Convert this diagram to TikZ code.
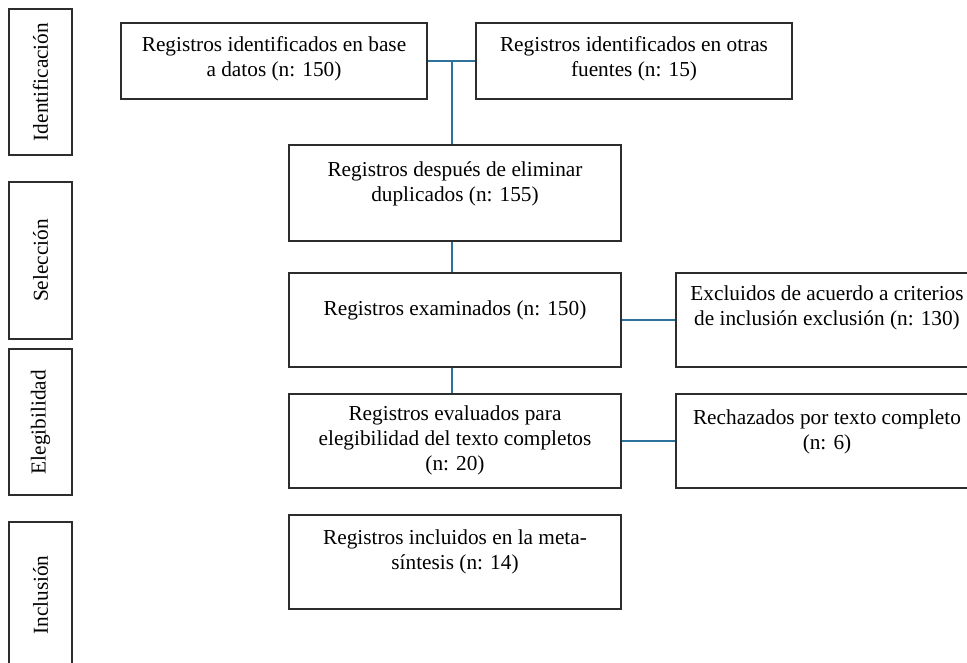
\documentclass[tikz,border=0pt]{standalone}
\usepackage{fontspec}
\setmainfont{Liberation Serif}
\usetikzlibrary{positioning}

\definecolor{enlace}{RGB}{46,114,156}
\definecolor{borde}{RGB}{45,45,45}

\begin{document}
\begin{tikzpicture}[x=1pt,y=-1pt,
  caja/.style={draw=borde,line width=1.4pt,inner sep=0pt},
  texto/.style={inner sep=0pt,align=center,font=\fontsize{21.3}{25}\selectfont},
  etapa/.style={caja,minimum height=63pt,rotate=90,font=\fontsize{21.3}{25}\selectfont},
  linea/.style={draw=enlace,line width=1.6pt}]
\useasboundingbox (0,0) rectangle (967,663);

% etapas
\node[etapa,minimum width=146pt] (ident) at (40.5,82) {Identificación};
\node[etapa,minimum width=157pt] (selec) at (40.5,260.5) {Selección};
\node[etapa,minimum width=146pt] (elegi) at (40.5,422) {Elegibilidad};
\node[etapa,minimum width=146pt] (inclu) at (40.5,595) {Inclusión};

% cajas
\node[caja,minimum width=306pt,minimum height=76pt] (regbase) at (274,61) {};
\node[caja,minimum width=316pt,minimum height=76pt] (regotras) at (634,61) {};
\node[caja,minimum width=332pt,minimum height=96pt] (dup) at (455,193) {};
\node[caja,minimum width=332pt,minimum height=94pt] (exam) at (455,320) {};
\node[caja,minimum width=302pt,minimum height=94pt] (excl) at (827,320) {};
\node[caja,minimum width=332pt,minimum height=94pt] (eleg) at (455,441) {};
\node[caja,minimum width=302pt,minimum height=94pt] (rech) at (827,441) {};
\node[caja,minimum width=332pt,minimum height=94pt] (incl) at (455,562) {};

% textos
\node[texto,below=14pt of regbase.north] (regbaset) {Registros identificados en base\\ a datos (n: 150)};
\node[texto,below=14pt of regotras.north] (regotrast) {Registros identificados en otras\\ fuentes (n: 15)};
\node[texto,below=17pt of dup.north] (dupt) {Registros después de eliminar\\ duplicados (n: 155)};
\node[texto,below=28pt of exam.north] (examt) {Registros examinados (n: 150)};
\node[texto,below=13pt of excl.north] (exclt) {Excluidos de acuerdo a criterios\\ de inclusión exclusión (n: 130)};
\node[texto,below=12pt of eleg.north] (elegt) {Registros evaluados para\\ elegibilidad del texto completos\\ (n: 20)};
\node[texto,below=16pt of rech.north] (recht) {Rechazados por texto completo\\ (n: 6)};
\node[texto,below=15pt of incl.north] (inclt) {Registros incluidos en la meta-\\ síntesis (n: 14)};

% enlaces
\coordinate (union) at (452,61);
\draw[linea] (regbase) -- (regotras);
\draw[linea] (union) -- (union |- dup.north);
\draw[linea] (union |- dup.south) -- (union |- exam.north);
\draw[linea] (union |- exam.south) -- (union |- eleg.north);
\draw[linea] (exam) -- (excl);
\draw[linea] (eleg) -- (rech);

\end{tikzpicture}
\end{document}
